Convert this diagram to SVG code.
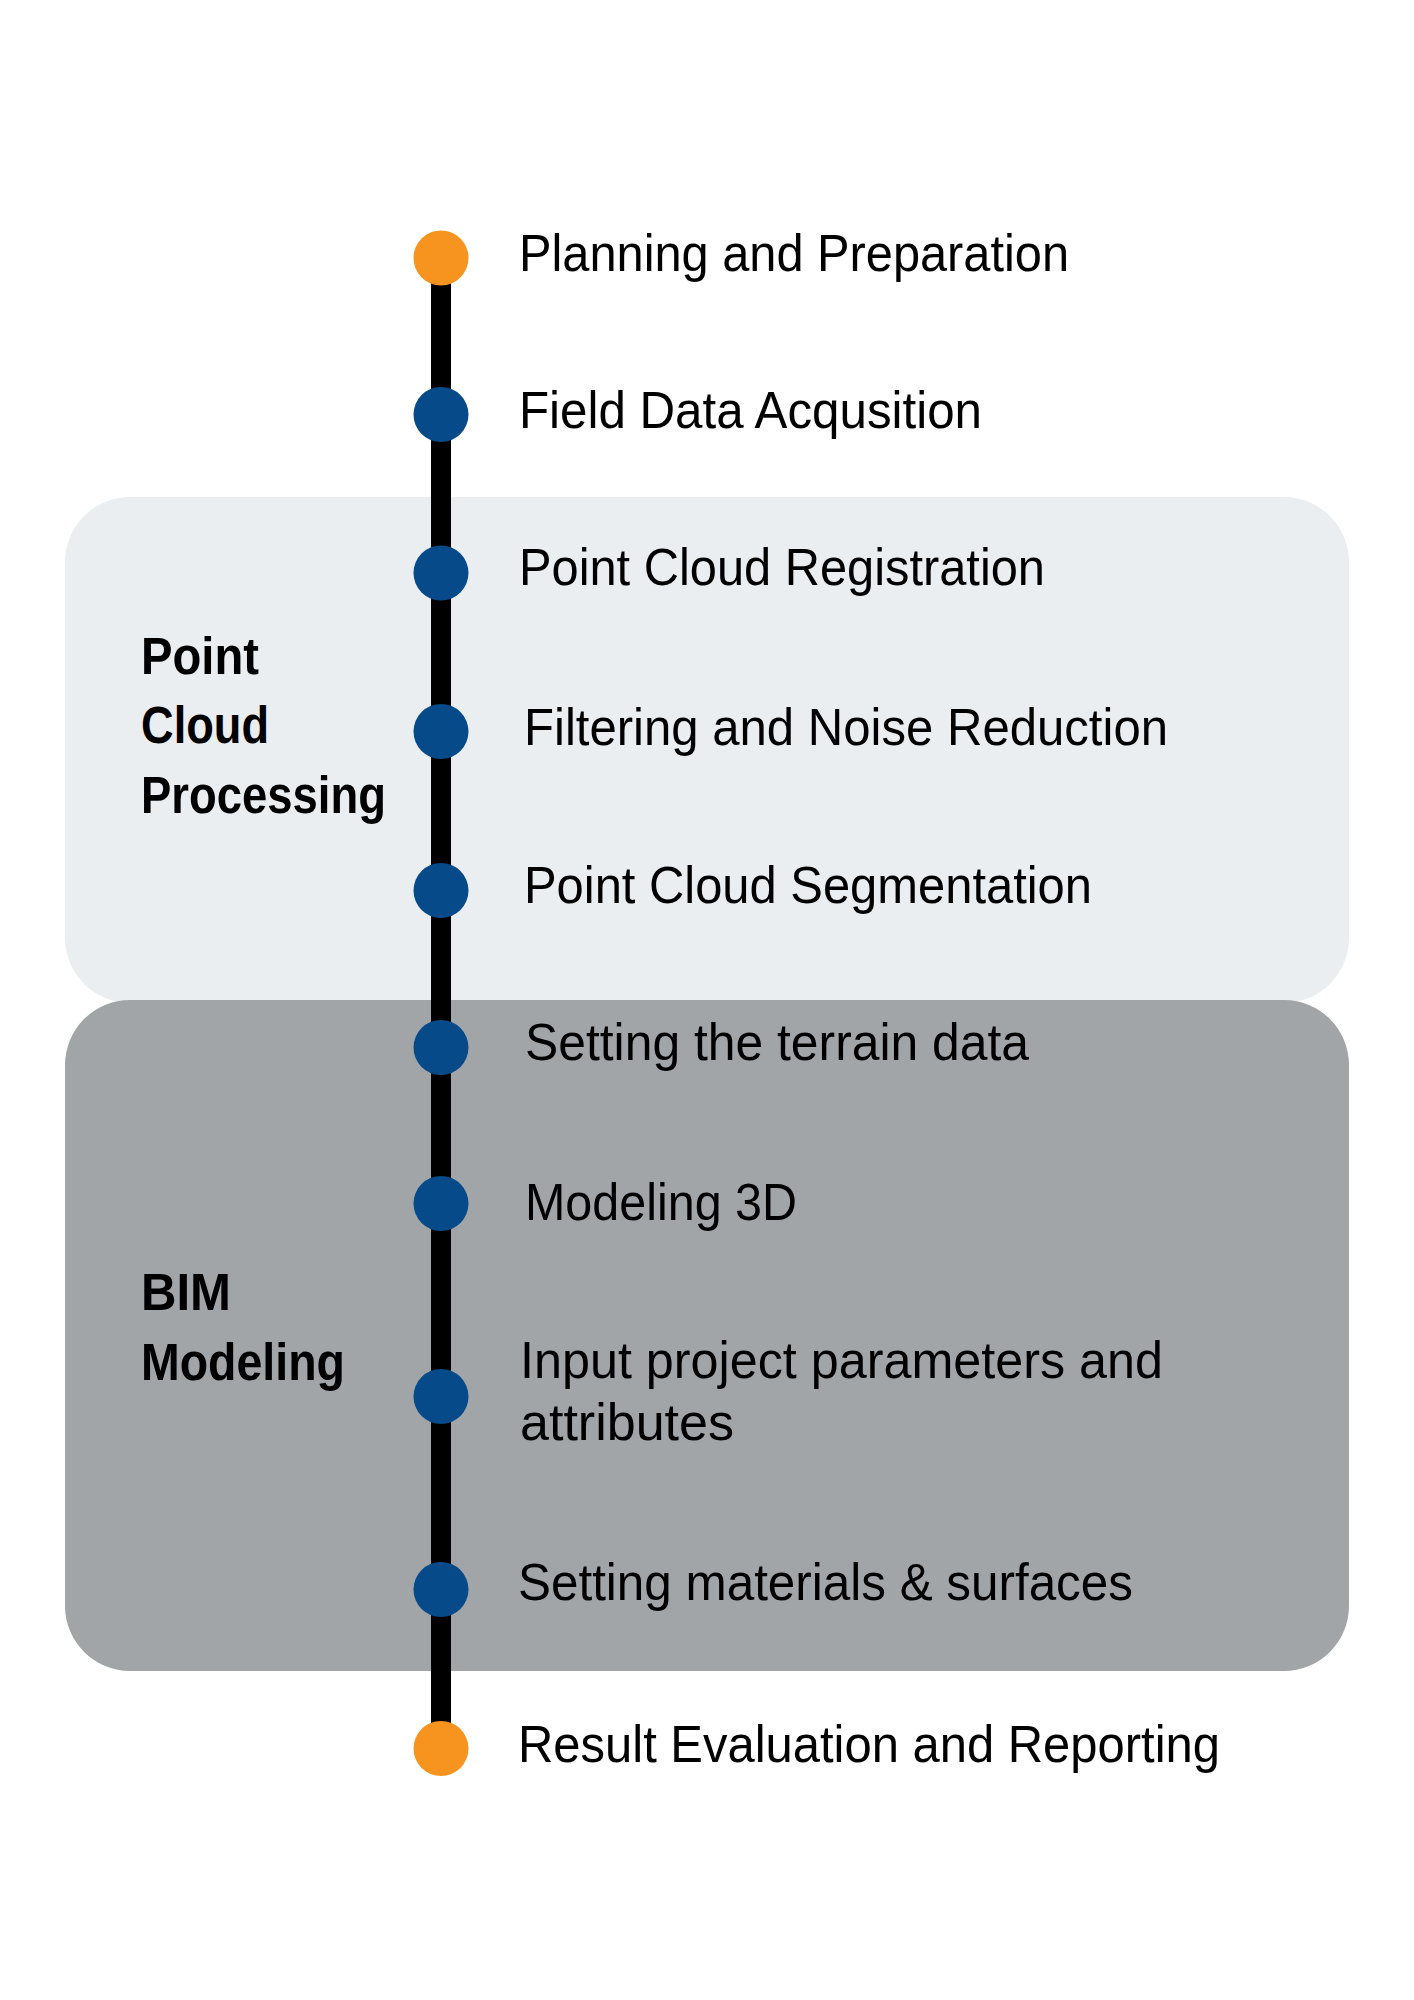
<svg xmlns="http://www.w3.org/2000/svg" width="1414" height="2000" viewBox="0 0 1414 2000">
  <style>
    .lbl { font-family: "Liberation Sans", Arial, sans-serif; font-size: 52px; fill: #000; }
    .grp { font-family: "Liberation Sans", Arial, sans-serif; font-size: 51px; font-weight: bold; fill: #000; }
    .blue { fill: #074a8a; }
    .orange { fill: #f7941f; }
  </style>
  <rect width="1414" height="2000" fill="#ffffff"/>
  <g id="group-point-cloud-processing">
    <rect x="65" y="497" width="1284" height="506" rx="65" ry="65" fill="#ebeef1"/>
    <text class="grp" x="141" y="674" textLength="118" lengthAdjust="spacingAndGlyphs">Point</text>
    <text class="grp" x="141" y="743" textLength="128" lengthAdjust="spacingAndGlyphs">Cloud</text>
    <text class="grp" x="141" y="813" textLength="245" lengthAdjust="spacingAndGlyphs">Processing</text>
  </g>
  <g id="group-bim-modeling">
    <rect x="65" y="1000" width="1284" height="671" rx="65" ry="65" fill="#a2a5a8"/>
    <text class="grp" x="141" y="1310" textLength="90" lengthAdjust="spacingAndGlyphs">BIM</text>
    <text class="grp" x="141" y="1380" textLength="204" lengthAdjust="spacingAndGlyphs">Modeling</text>
  </g>
  <g id="connectors">
    <line x1="441" y1="258" x2="441" y2="1748" stroke="#000" stroke-width="20"/>
  </g>
  <g id="step1">
    <circle class="orange" cx="441" cy="258" r="27.5"/>
    <text class="lbl" x="519" y="271" textLength="550" lengthAdjust="spacingAndGlyphs">Planning and Preparation</text>
  </g>
  <g id="step2">
    <circle class="blue" cx="441" cy="414.5" r="27.5"/>
    <text class="lbl" x="519" y="428" textLength="463" lengthAdjust="spacingAndGlyphs">Field Data Acqusition</text>
  </g>
  <g id="step3">
    <circle class="blue" cx="441" cy="573" r="27.5"/>
    <text class="lbl" x="519" y="585" textLength="526" lengthAdjust="spacingAndGlyphs">Point Cloud Registration</text>
  </g>
  <g id="step4">
    <circle class="blue" cx="441" cy="731.5" r="27.5"/>
    <text class="lbl" x="524" y="745" textLength="644" lengthAdjust="spacingAndGlyphs">Filtering and Noise Reduction</text>
  </g>
  <g id="step5">
    <circle class="blue" cx="441" cy="890.5" r="27.5"/>
    <text class="lbl" x="524" y="903" textLength="568" lengthAdjust="spacingAndGlyphs">Point Cloud Segmentation</text>
  </g>
  <g id="step6">
    <circle class="blue" cx="441" cy="1047.5" r="27.5"/>
    <text class="lbl" x="525" y="1060" textLength="504" lengthAdjust="spacingAndGlyphs">Setting the terrain data</text>
  </g>
  <g id="step7">
    <circle class="blue" cx="441" cy="1203.5" r="27.5"/>
    <text class="lbl" x="525" y="1220" textLength="272" lengthAdjust="spacingAndGlyphs">Modeling 3D</text>
  </g>
  <g id="step8">
    <circle class="blue" cx="441" cy="1396.5" r="27.5"/>
    <text class="lbl" x="520" y="1378" textLength="643" lengthAdjust="spacingAndGlyphs">Input project parameters and</text>
    <text class="lbl" x="520" y="1440" textLength="214" lengthAdjust="spacingAndGlyphs">attributes</text>
  </g>
  <g id="step9">
    <circle class="blue" cx="441" cy="1589.5" r="27.5"/>
    <text class="lbl" x="518" y="1600" textLength="615" lengthAdjust="spacingAndGlyphs">Setting materials &amp; surfaces</text>
  </g>
  <g id="step10">
    <circle class="orange" cx="441" cy="1748.5" r="27.5"/>
    <text class="lbl" x="518" y="1762" textLength="702" lengthAdjust="spacingAndGlyphs">Result Evaluation and Reporting</text>
  </g>
</svg>
